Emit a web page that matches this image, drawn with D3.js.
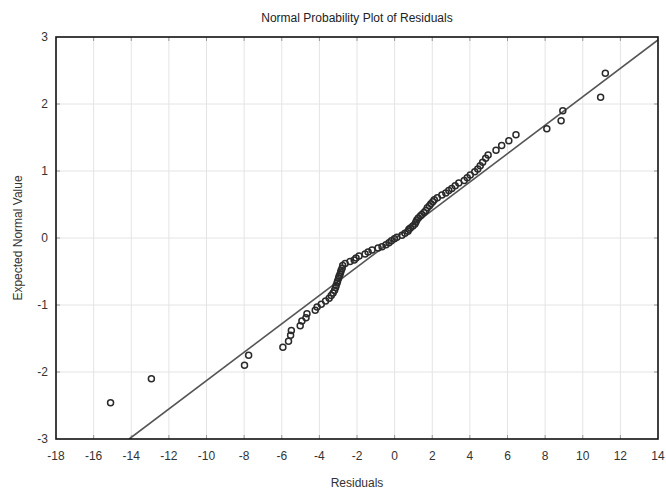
<!DOCTYPE html>
<html>
<head>
<meta charset="utf-8">
<script src="https://cdn.jsdelivr.net/npm/d3@7"></script>
<style>
  html, body { margin: 0; padding: 0; background: #fff; }
  svg { display: block; font-family: "Liberation Sans", Arial, sans-serif; }
</style>
</head>
<body>
<svg id="chart" width="666" height="493"></svg>
<script>
// Residuals (sorted) and their expected normal values
const residuals = [
  -15.10, -12.93, -7.98, -7.76, -5.94, -5.64, -5.53, -5.49, -5.02, -4.93,
  -4.71, -4.66, -4.22, -4.12, -3.90, -3.67, -3.48, -3.37, -3.27, -3.19,
  -3.14, -3.11, -3.06, -3.03, -2.98, -2.95, -2.90, -2.87, -2.84, -2.79,
  -2.76, -2.63, -2.37, -2.15, -2.05, -1.89, -1.57, -1.41, -1.20, -0.88,
  -0.67, -0.46, -0.30, -0.17, -0.01, 0.12, 0.39, 0.55, 0.71, 0.76,
  0.84, 0.97, 1.08, 1.13, 1.18, 1.26, 1.37, 1.45, 1.56, 1.66,
  1.74, 1.85, 1.93, 2.03, 2.11, 2.27, 2.51, 2.72, 2.88, 3.04,
  3.22, 3.41, 3.70, 3.86, 4.02, 4.26, 4.42, 4.55, 4.68, 4.84,
  4.97, 5.39, 5.69, 6.07, 6.45, 8.09, 8.85, 8.94, 10.95, 11.20
];
const expectedNormal = [
  -2.46, -2.10, -1.90, -1.75, -1.63, -1.54, -1.45, -1.38, -1.31, -1.24,
  -1.19, -1.13, -1.08, -1.03, -0.99, -0.94, -0.90, -0.86, -0.82, -0.78,
  -0.74, -0.71, -0.67, -0.64, -0.60, -0.57, -0.54, -0.51, -0.48, -0.45,
  -0.41, -0.38, -0.35, -0.33, -0.30, -0.27, -0.24, -0.21, -0.18, -0.15,
  -0.13, -0.10, -0.07, -0.04, -0.01, 0.01, 0.04, 0.07, 0.10, 0.13,
  0.15, 0.18, 0.21, 0.24, 0.27, 0.30, 0.33, 0.35, 0.38, 0.41,
  0.45, 0.48, 0.51, 0.54, 0.57, 0.60, 0.64, 0.67, 0.71, 0.74,
  0.78, 0.82, 0.86, 0.90, 0.94, 0.99, 1.03, 1.08, 1.13, 1.19,
  1.24, 1.31, 1.38, 1.45, 1.54, 1.63, 1.75, 1.90, 2.10, 2.46
];
// Reference line: expected = (residual - lineCenter) / lineScale
const lineCenter = 0.05;
const lineScale = 4.72;

const xTicks = [-18, -16, -14, -12, -10, -8, -6, -4, -2, 0, 2, 4, 6, 8, 10, 12, 14];
const yTicks = [-3, -2, -1, 0, 1, 2, 3];

const svg = d3.select("#chart");
const margin = { left: 56, right: 8, top: 37, bottom: 54 };
const W = 666, H = 493;
const x = d3.scaleLinear().domain([-18, 14]).range([margin.left, W - margin.right]);
const y = d3.scaleLinear().domain([-3, 3]).range([H - margin.bottom, margin.top]);
const [x0, x1] = x.range();
const [y1, y0] = y.range();

svg.append("defs").append("clipPath").attr("id", "plotClip")
  .append("rect").attr("x", x0).attr("y", y0).attr("width", x1 - x0).attr("height", y1 - y0);

// Grid
const grid = svg.append("g").attr("stroke", "#e4e4e4").attr("stroke-width", 1);
grid.selectAll("line.gx").data(xTicks.slice(1, -1)).join("line")
  .attr("x1", d => x(d)).attr("x2", d => x(d)).attr("y1", y0).attr("y2", y1);
grid.selectAll("line.gy").data(yTicks.slice(1, -1)).join("line")
  .attr("y1", d => y(d)).attr("y2", d => y(d)).attr("x1", x0).attr("x2", x1);

// Inner tick marks on all four sides
const ticks = svg.append("g").attr("stroke", "#999").attr("stroke-width", 1);
xTicks.slice(1, -1).forEach(t => {
  ticks.append("line").attr("x1", x(t)).attr("x2", x(t)).attr("y1", y0).attr("y2", y0 + 4);
  ticks.append("line").attr("x1", x(t)).attr("x2", x(t)).attr("y1", y1).attr("y2", y1 - 4);
});
yTicks.slice(1, -1).forEach(t => {
  ticks.append("line").attr("y1", y(t)).attr("y2", y(t)).attr("x1", x0).attr("x2", x0 + 4);
  ticks.append("line").attr("y1", y(t)).attr("y2", y(t)).attr("x1", x1).attr("x2", x1 - 4);
});

// Reference line
const lineY = v => (v - lineCenter) / lineScale;
const lx0 = lineCenter + lineScale * -3;
svg.append("line")
  .attr("clip-path", "url(#plotClip)")
  .attr("x1", x(lx0)).attr("y1", y(lineY(lx0)))
  .attr("x2", x(14)).attr("y2", y(lineY(14)))
  .attr("stroke", "#555").attr("stroke-width", 1.6);

// Points
svg.append("g").selectAll("circle").data(residuals).join("circle")
  .attr("cx", d => x(d))
  .attr("cy", (d, i) => y(expectedNormal[i]))
  .attr("r", 3)
  .attr("fill", "none")
  .attr("stroke", "#2a2a2a")
  .attr("stroke-width", 1.5);

// Frame
svg.append("rect").attr("x", x0).attr("y", y0).attr("width", x1 - x0).attr("height", y1 - y0)
  .attr("fill", "none").attr("stroke", "#111").attr("stroke-width", 1.6);

// Tick labels
svg.append("g").selectAll("text").data(xTicks).join("text")
  .attr("x", d => x(d)).attr("y", y1 + 21)
  .attr("text-anchor", "middle").attr("font-size", 12).attr("fill", "#333")
  .text(d => d);
svg.append("g").selectAll("text").data(yTicks).join("text")
  .attr("x", x0 - 8).attr("y", d => y(d) + 4)
  .attr("text-anchor", "end").attr("font-size", 12).attr("fill", "#333")
  .text(d => d);

// Titles
svg.append("text").attr("x", (x0 + x1) / 2).attr("y", 22)
  .attr("text-anchor", "middle").attr("font-size", 12).attr("fill", "#222")
  .text("Normal Probability Plot of Residuals");
svg.append("text").attr("x", (x0 + x1) / 2).attr("y", 487)
  .attr("text-anchor", "middle").attr("font-size", 12).attr("fill", "#333")
  .text("Residuals");
svg.append("text").attr("transform", `translate(22, ${(y0 + y1) / 2}) rotate(-90)`)
  .attr("text-anchor", "middle").attr("font-size", 12).attr("fill", "#333")
  .text("Expected Normal Value");
</script>
</body>
</html>
